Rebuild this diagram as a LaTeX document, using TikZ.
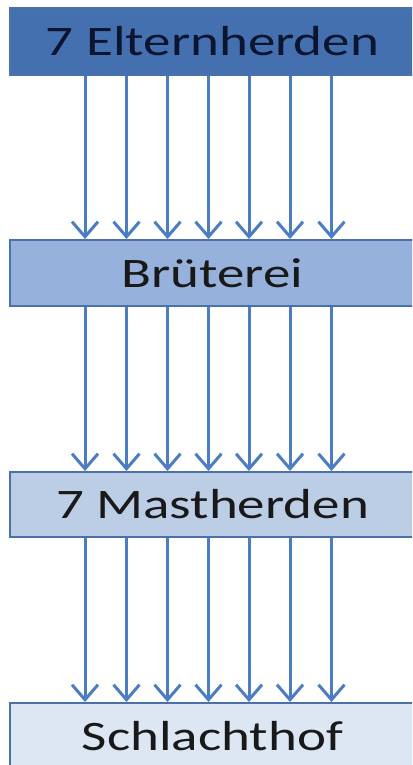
\documentclass[tikz,border=0pt]{standalone}
\usepackage{fontspec}
\usepackage{graphicx}
\setmainfont{Carlito}
\usetikzlibrary{arrows.meta,calc}

\definecolor{boxA}{HTML}{4470B0}
\definecolor{boxB}{HTML}{95B1DC}
\definecolor{boxC}{HTML}{BCCDE6}
\definecolor{boxD}{HTML}{DDE6F3}
\definecolor{edge}{HTML}{4A72A8}
\definecolor{flow}{HTML}{4C7DC2}
\definecolor{navy}{HTML}{0B1530}

\tikzset{
  stage/.style={draw=edge, line width=2pt, minimum width=406pt,
    minimum height=66pt, inner sep=0pt, text=black!90,
    font=\fontsize{42}{50}\selectfont},
  flowarrow/.style={draw=flow, line width=3pt,
    -{Straight Barb[length=15pt,width=26pt,line width=3pt]}},
}
\newcommand{\wide}[1]{\scalebox{1.31}[1]{#1}}

\begin{document}
\begin{tikzpicture}[x=1pt,y=-1pt]
  \useasboundingbox (0,0) rectangle (412,765);
  \clip (0,0) rectangle (412,765);
  \fill[white] (0,0) rectangle (412,765);

  % the four stages of the chain
  \node[stage, fill=boxA, text=navy, minimum height=67pt] (eltern) at (212.5,41.5) {\wide{7 Elternherden}};
  \node[stage, fill=boxB] (brut)   at (212.5,273)  {\wide{Brüterei}};
  \node[stage, fill=boxC, minimum height=65pt] (mast) at (212.5,504.5) {\wide{7 Mastherden}};
  \node[stage, fill=boxD] (schlacht) at (212.5,736) {\wide{Schlachthof}};

  % horizontal positions of the seven flows
  \foreach \i/\x in {1/85,2/126.5,3/167.5,4/208.5,5/249,6/290,7/331.5}
    \coordinate (f\i) at (\x,0);

  \foreach \i in {1,...,7} {
    \draw[flowarrow] (eltern.south -| f\i) -- (brut.north -| f\i);
    \draw[flowarrow] (brut.south -| f\i) -- (mast.north -| f\i);
    \draw[flowarrow] (mast.south -| f\i) -- (schlacht.north -| f\i);
  }
\end{tikzpicture}
\end{document}
